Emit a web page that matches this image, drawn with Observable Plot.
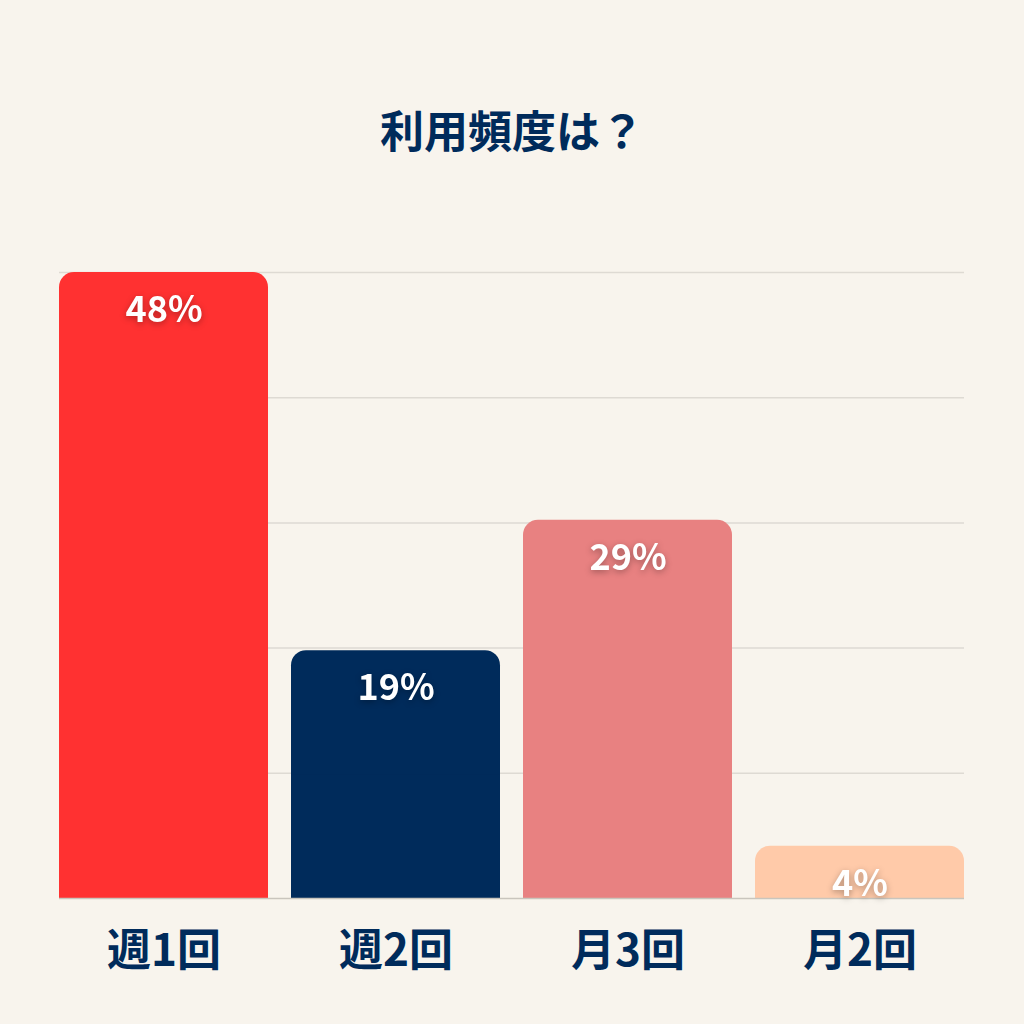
<!DOCTYPE html>
<html><head><meta charset="utf-8">
<script src="https://cdn.jsdelivr.net/npm/d3@7"></script>
<script src="https://cdn.jsdelivr.net/npm/@observablehq/plot@0.6"></script>
<style>
html,body{margin:0;padding:0;background:#f8f4ed;width:1024px;height:1024px;overflow:hidden;}
#title{box-sizing:border-box;height:200px;padding-top:103px;line-height:52px;text-align:center;
  font-family:"Noto Sans CJK JP",sans-serif;font-weight:700;font-size:44px;color:#002b5b;}
#chart svg{display:block;}
</style></head><body>
<div id="title">利用頻度は？</div>
<div id="chart"></div>
<script>
const categories = ["週1回", "週2回", "月3回", "月2回"];
const values = [48, 19, 29, 4];
const colors = ["#ff3131", "#002b5b", "#e88181", "#ffcaa9"];
const gridTicks = [9.6, 19.2, 28.8, 38.4, 48];
const navy = "#002b5b";

const data = categories.map((c, i) => ({category: c, value: values[i], color: colors[i], label: values[i] + "%"}));

const chart = Plot.plot({
  width: 1024,
  height: 824,
  marginTop: 72,
  marginBottom: 126,
  marginLeft: 59,
  marginRight: 60,
  style: {background: "transparent", fontFamily: "'Noto Sans CJK JP', sans-serif", color: navy},
  x: {domain: categories, paddingInner: 0.1, paddingOuter: 0, label: null, axis: null},
  y: {domain: [0, 48], axis: null},
  color: {type: "identity"},
  marks: [
    Plot.ruleY(gridTicks, {stroke: "#dedad3", strokeWidth: 1.5}),
    Plot.barY(data, {x: "category", y: "value", fill: "color", rx: 15}),
    Plot.barY(data, {x: "category", y1: 0, y2: d => d.value / 2, fill: "color"}),
    Plot.ruleY([0], {stroke: "#c9c5bd", strokeWidth: 1.5}),
    Plot.text(data, {x: "category", y: "value", text: "label", dy: 38, fill: "white", fontSize: 36, fontWeight: 700}),
    Plot.axisX({tickSize: 0, tickPadding: 36, fontSize: 44, fontWeight: 700, fill: navy, label: null})
  ]
});
document.getElementById("chart").appendChild(chart);
d3.select(chart).selectAll('g[aria-label="text"] text')
  .style("filter", "drop-shadow(0px 2px 3px rgba(0,0,0,0.3))");
</script>
</body></html>
